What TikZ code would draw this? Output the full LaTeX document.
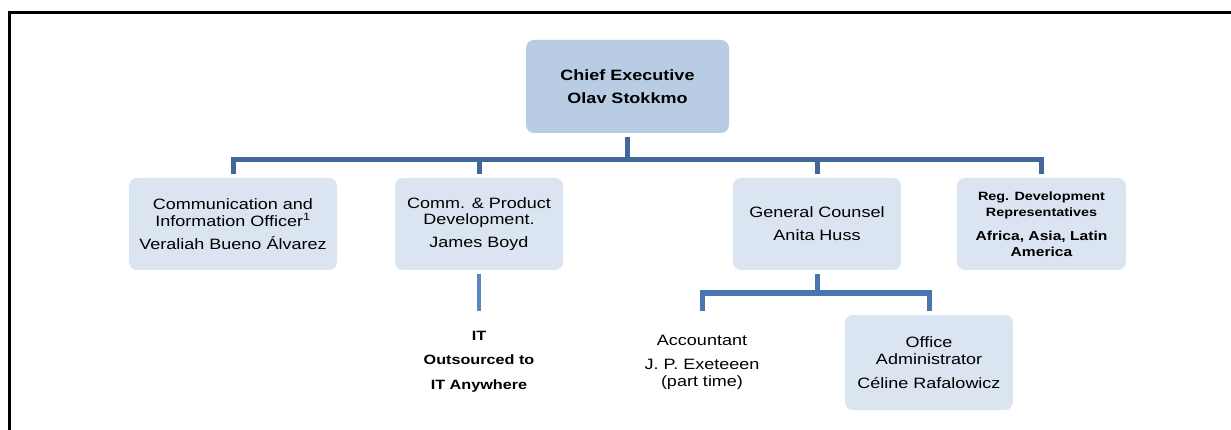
\documentclass[tikz,border=0pt]{standalone}
\usepackage{fontspec}
\setmainfont{Liberation Sans}[FakeStretch=1.2]
\usetikzlibrary{calc}
\definecolor{headfill}{HTML}{B8CCE4}
\definecolor{unitfill}{HTML}{DBE5F1}
\definecolor{linkdark}{HTML}{41679B}
\definecolor{linkmid}{HTML}{4A76B0}
\definecolor{linkpale}{HTML}{5A86C2}
\newcommand{\unitfont}{\fontsize{15}{16.5}\selectfont}
\newcommand{\regbold}{\fontsize{12}{17}\selectfont\bfseries}
\newcommand{\smallbold}{\fontsize{13}{17}\selectfont\bfseries}
\tikzset{
  unit/.style={draw=none, fill=unitfill, rounded corners=8pt, align=center,
    inner sep=1pt, minimum height=92pt, font=\unitfont},
  headunit/.style={unit, fill=headfill, font=\unitfont\bfseries},
  freetext/.style={unit, fill=none},
  link/.style={draw=linkdark, line width=5pt},
  sublink/.style={draw=linkmid, line width=5pt},
  itlink/.style={draw=linkpale, line width=3.5pt}
}

\begin{document}
\begin{tikzpicture}[x=1pt,y=-1pt]
        \useasboundingbox (0,0) rectangle (1231,430);
        % frame
        \draw[line width=3pt] (1231,13) -- (9,13) -- (9,430);
        % top
        \node[headunit, minimum width=203pt, minimum height=93pt] (chief) at (627.5,86.5)
          {Chief Executive\\[6pt]Olav Stokkmo};
        % row 1
        \node[unit, minimum width=208pt] (comm) at (233,224)
          {Communication and\\Information Officer\textsuperscript{1}\\[6.5pt]Veraliah Bueno Álvarez};
        \node[unit, minimum width=168pt] (prod) at (479,224)
          {Comm. \& Product\\Development.\\[6.5pt]James Boyd};
        \node[unit, minimum width=168pt] (counsel) at (817,224)
          {General Counsel\\[6.5pt]Anita Huss};
        \node[unit, minimum width=169pt] (reg) at (1041.5,224)
          {\regbold Reg. Development\\\regbold Representatives\\[7pt]
           \smallbold Africa, Asia, Latin\\\smallbold America};
        % row 2
        \node[freetext, minimum width=168pt, minimum height=93pt, font=\fontsize{13.5}{17}\selectfont\bfseries] (itout) at (479,361.5)
          {IT\\[7pt]Outsourced to\\[8pt]IT Anywhere};
        \node[freetext, minimum width=168pt, minimum height=95pt] (acct) at (702,362.5)
          {Accountant\\[7.5pt]J. P. Exeteeen\\(part time)};
        \node[unit, minimum width=168pt, minimum height=95pt] (office) at (929,362.5)
          {Office\\Administrator\\[7.5pt]Céline Rafalowicz};
        % links
        \coordinate (hub) at (627.5,160);
        \draw[link, shorten <=4pt] (chief.south) -- (hub);
        \foreach \u in {comm,prod,counsel,reg}
          \draw[link, shorten >=4pt] (hub) -| (\u.north);
        \coordinate (subhub) at (817,293);
        \draw[sublink, shorten <=4pt] (counsel.south) -- (subhub);
        \foreach \u in {acct,office}
          \draw[sublink, shorten >=4pt] (subhub) -| (\u.north);
        \draw[itlink, shorten <=4pt, shorten >=4pt] (prod.south) -- (itout.north);
\end{tikzpicture}
\end{document}
